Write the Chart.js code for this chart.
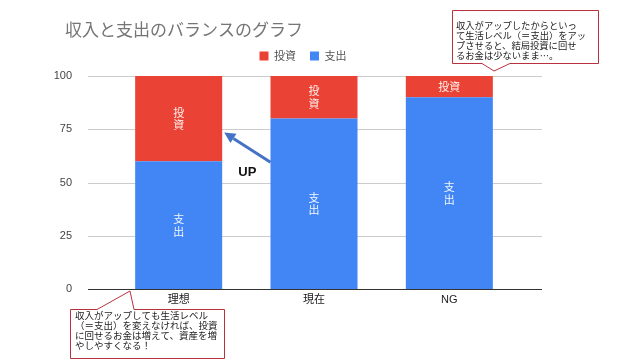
<!DOCTYPE html>
<html><head><meta charset="utf-8">
<script src="https://cdn.jsdelivr.net/npm/chart.js@4"></script>
<style>html,body{margin:0;padding:0;background:#fff}#wrap{width:640px;height:360px;position:relative}</style>
</head><body><div id="wrap"><canvas id="c" width="640" height="360"></canvas></div>
<script>
// ---- data ----
const categories = ['理想', '現在', 'NG'];
const spending = [60, 80, 90];      // 支出
const investment = [40, 20, 10];    // 投資
const yTicks = [0, 25, 50, 75, 100];
const seriesNames = ['支出', '投資'];
const titleText = '収入と支出のバランスのグラフ';
const noteTop = ['収入がアップしたからといっ', 'て生活レベル（＝支出）をアッ', 'プさせると、結局投資に回せ', 'るお金は少ないまま…。'];
const noteBottom = ['収入がアップしても生活レベル', '（＝支出）を変えなければ、投資', 'に回せるお金は増えて、資産を増', 'やしやすくなる！'];
const arrowLabel = 'UP';

const FONT = 'Arial, "Liberation Sans", "Noto Sans CJK JP", sans-serif';
const CJK = '"Noto Sans CJK JP", Arial, sans-serif';
Chart.defaults.font.family = FONT;

function callout(ctx, r, ptr, lines, fontPx, lineH, tx, ty0) {
  ctx.save();
  ctx.beginPath();
  const L = r.x, T = r.y, R = r.x + r.w, B = r.y + r.h;
  ctx.moveTo(L, T);
  if (ptr.side === 'top') {
    ctx.lineTo(ptr.b1, T); ctx.lineTo(ptr.ax, ptr.ay); ctx.lineTo(ptr.b2, T);
  }
  ctx.lineTo(R, T); ctx.lineTo(R, B);
  if (ptr.side === 'bottom') {
    ctx.lineTo(ptr.b2, B); ctx.lineTo(ptr.ax, ptr.ay); ctx.lineTo(ptr.b1, B);
  }
  ctx.lineTo(L, B); ctx.closePath();
  ctx.fillStyle = '#ffffff'; ctx.fill();
  ctx.lineWidth = 1; ctx.strokeStyle = '#b8323e'; ctx.stroke();
  ctx.fillStyle = '#222222';
  ctx.font = fontPx + 'px ' + CJK;
  ctx.textAlign = 'left'; ctx.textBaseline = 'middle';
  lines.forEach((t, i) => ctx.fillText(t, tx, ty0 + i * lineH));
  ctx.restore();
}

const decor = {
  id: 'decor',
  beforeDatasetsDraw(chart) {
    const {ctx, chartArea: a, scales: {y}} = chart;
    ctx.save();
    ctx.strokeStyle = '#cccccc'; ctx.lineWidth = 1;
    yTicks.forEach(v => {
      if (v === 0) return;
      const py = Math.round(y.getPixelForValue(v)) + 0.5;
      ctx.beginPath(); ctx.moveTo(a.left - 23, py); ctx.lineTo(a.right + 25, py); ctx.stroke();
    });
    ctx.restore();
  },
  afterDatasetsDraw(chart) {
    const {ctx, chartArea: a, scales: {y}} = chart;
    ctx.save();
    const py0 = Math.round(y.getPixelForValue(0)) + 0.5;
    ctx.strokeStyle = '#333333'; ctx.lineWidth = 1;
    ctx.beginPath(); ctx.moveTo(a.left - 23, py0); ctx.lineTo(a.right + 25, py0); ctx.stroke();
    ctx.fillStyle = 'rgba(255,255,255,0.93)';
    ctx.font = '11px ' + CJK;
    ctx.textAlign = 'center'; ctx.textBaseline = 'middle';
    chart.data.datasets.forEach((ds, di) => {
      const meta = chart.getDatasetMeta(di);
      meta.data.forEach(bar => {
        const top = Math.min(bar.y, bar.base), bot = Math.max(bar.y, bar.base);
        const cy = (top + bot) / 2;
        const name = ds.label;
        if (bot - top > 32) {
          const chars = Array.from(name);
          const pitch = 12.5;
          chars.forEach((c, k) => ctx.fillText(c, bar.x, cy + (k - (chars.length - 1) / 2) * pitch));
        } else {
          ctx.fillText(name, bar.x, cy);
        }
      });
    });
    ctx.restore();
  },
  afterDraw(chart) {
    const {ctx, scales: {y}} = chart;
    ctx.save();
    ctx.fillStyle = '#757575';
    ctx.font = '17px ' + CJK;
    ctx.textAlign = 'left'; ctx.textBaseline = 'middle';
    ctx.fillText(titleText, 65, 30);
    const m0 = chart.getDatasetMeta(0).data;
    const b0 = m0[0], b1 = m0[1];
    const tipX = b0.x + b0.width / 2 + 2, tipY = y.getPixelForValue(73.5);
    const tailX = b1.x - b1.width / 2, tailY = y.getPixelForValue(59.5);
    const ang = Math.atan2(tipY - tailY, tipX - tailX);
    const hl = 11, hw = 5.5;
    const bx = tipX - hl * Math.cos(ang), by = tipY - hl * Math.sin(ang);
    ctx.strokeStyle = '#4472c4'; ctx.fillStyle = '#4472c4'; ctx.lineWidth = 3;
    ctx.beginPath(); ctx.moveTo(tailX, tailY); ctx.lineTo(bx, by); ctx.stroke();
    ctx.beginPath();
    ctx.moveTo(tipX, tipY);
    ctx.lineTo(bx + hw * Math.sin(ang), by - hw * Math.cos(ang));
    ctx.lineTo(bx - hw * Math.sin(ang), by + hw * Math.cos(ang));
    ctx.closePath(); ctx.fill();
    ctx.fillStyle = '#111111';
    ctx.font = 'bold 13px ' + FONT;
    ctx.textAlign = 'center'; ctx.textBaseline = 'middle';
    ctx.fillText(arrowLabel, (tipX + tailX) / 2, y.getPixelForValue(54.5));
    ctx.restore();
    callout(ctx, {x: 452.5, y: 10.5, w: 146, h: 53}, {side: 'bottom', b1: 482, b2: 510, ax: 494, ay: 71},
      noteTop, 9.3, 10, 456, 25);
    callout(ctx, {x: 70.5, y: 309.5, w: 154, h: 49}, {side: 'top', b1: 97, b2: 134, ax: 130, ay: 291},
      noteBottom, 9.5, 10, 75, 315);
  }
};

new Chart(document.getElementById('c'), {
  type: 'bar',
  data: {
    labels: categories,
    datasets: [
      {label: seriesNames[0], data: spending, backgroundColor: '#4285f4', borderWidth: 0},
      {label: seriesNames[1], data: investment, backgroundColor: '#ea4335', borderWidth: 0}
    ]
  },
  options: {
    responsive: false,
    devicePixelRatio: 1,
    animation: false,
    layout: {padding: {left: 50, right: 84, top: 36.5, bottom: 0}},
    datasets: {bar: {barPercentage: 0.643, categoryPercentage: 1}},
    plugins: {
      title: {display: false},
      subtitle: {display: true, text: '', weight: 500, font: {size: 1, lineHeight: 1}, padding: {top: 0, bottom: 3.5}},
      legend: {
        position: 'top', reverse: true,
        labels: {boxWidth: 9, boxHeight: 9, padding: 14, color: '#555555', font: {size: 11, family: CJK}}
      },
      tooltip: {enabled: false}
    },
    scales: {
      x: {
        stacked: true,
        grid: {display: false}, border: {display: false},
        ticks: {color: '#222222', font: {size: 11}, padding: -4},
        afterFit(s) { s.height = 71; }
      },
      y: {
        stacked: true, min: 0, max: 100,
        grid: {display: false}, border: {display: false},
        ticks: {stepSize: 25, color: '#444444', font: {size: 11}, padding: 31},
        afterFit(s) { s.width = 61; }
      },
      y2: {
        type: 'linear', position: 'right', display: true,
        grid: {display: false}, border: {display: false},
        ticks: {display: false},
        afterFit(s) { s.width = 39; }
      }
    }
  },
  plugins: [decor]
});
</script></body></html>
